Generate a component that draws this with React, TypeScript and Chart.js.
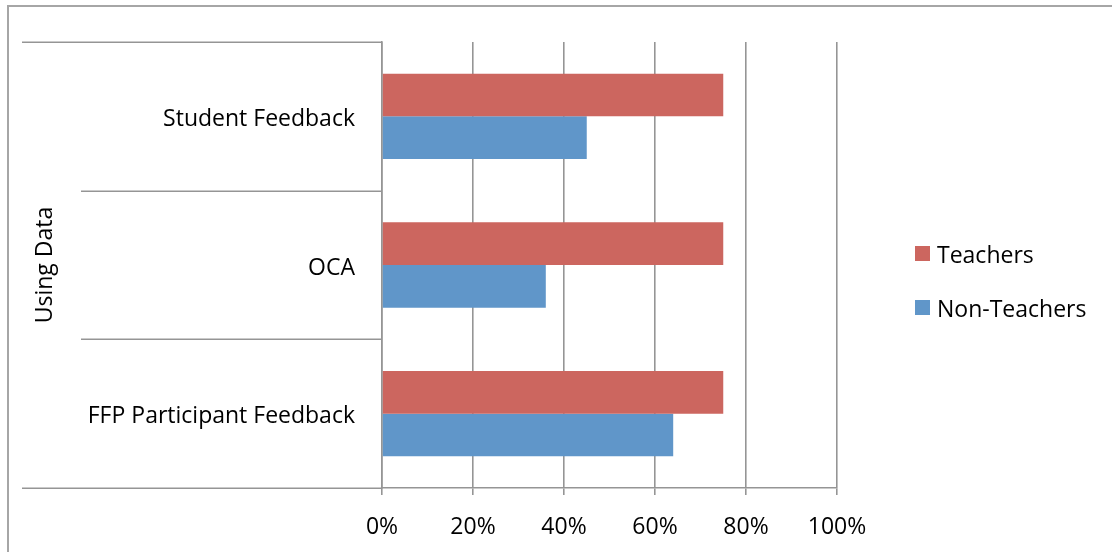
import React, { useEffect, useRef } from "react";
import { Chart, registerables } from "chart.js";

Chart.register(...registerables);

const categories = ["Student Feedback", "OCA", "FFP Participant Feedback"];
const seriesNames = ["Teachers", "Non-Teachers"];
const teachers = [75, 75, 75];
const nonTeachers = [45, 36, 64];
const xTicks = [0, 20, 40, 60, 80, 100];
const groupLabel = "Using Data";

const FONT_FAMILY = "'Open Sans', sans-serif";
const FONT_SIZE = 23;
const RED = "#CC665F";
const BLUE = "#6096C9";
const GRID = "#959595";

export default function App() {
  const ref = useRef<HTMLCanvasElement>(null);

  useEffect(() => {
    if (!ref.current) return;

    const decor = {
      id: "decor",
      afterDraw(chart: any) {
        const { ctx, chartArea, scales } = chart;
        const y = scales.y;
        ctx.save();
        // outer frame
        ctx.strokeStyle = "#a6a6a6";
        ctx.lineWidth = 2;
        ctx.beginPath();
        ctx.moveTo(8, 552);
        ctx.lineTo(8, 6);
        ctx.lineTo(1112, 6);
        ctx.stroke();

        // category separators (multi-level axis)
        ctx.strokeStyle = GRID;
        ctx.lineWidth = 1.5;
        const n = categories.length;
        for (let i = 0; i <= n; i++) {
          const py = Math.round(y.getPixelForValue(i - 0.5)) + 0.25;
          const x0 = i === 0 || i === n ? 22 : 81;
          ctx.beginPath();
          ctx.moveTo(x0, py);
          ctx.lineTo(chartArea.left, py);
          ctx.stroke();
        }

        // group label
        ctx.fillStyle = "#000";
        ctx.font = `${FONT_SIZE}px ${FONT_FAMILY}`;
        ctx.textAlign = "center";
        ctx.textBaseline = "middle";
        ctx.save();
        ctx.translate(45, (chartArea.top + chartArea.bottom) / 2);
        ctx.rotate(-Math.PI / 2);
        ctx.fillText(groupLabel, 0, 0);
        ctx.restore();

        // legend
        const ds = chart.data.datasets;
        const legendX = 915;
        const legendY0 = 246;
        const rowGap = 54;
        ctx.textAlign = "left";
        ds.forEach((d: any, i: number) => {
          const top = legendY0 + i * rowGap;
          ctx.fillStyle = d.backgroundColor;
          ctx.fillRect(legendX, top, 15, 15);
          ctx.fillStyle = "#000";
          ctx.fillText(d.label, legendX + 22, top + 10);
        });
        ctx.restore();
      },
    };

    const font = { family: FONT_FAMILY, size: FONT_SIZE };

    const chart = new Chart(ref.current, {
      type: "bar",
      data: {
        labels: categories,
        datasets: [
          {
            label: seriesNames[0],
            data: teachers,
            backgroundColor: RED,
            barPercentage: 1,
            categoryPercentage: 0.574,
          },
          {
            label: seriesNames[1],
            data: nonTeachers,
            backgroundColor: BLUE,
            barPercentage: 1,
            categoryPercentage: 0.574,
          },
        ],
      },
      options: {
        indexAxis: "y",
        animation: false,
        responsive: false,
        maintainAspectRatio: false,
        layout: { padding: { top: 42, right: 275, left: 0, bottom: 0 } },
        plugins: {
          legend: { display: false },
          tooltip: { enabled: false },
          title: { display: false },
        },
        scales: {
          x: {
            min: 0,
            max: 100,
            afterBuildTicks: (s: any) => {
              s.ticks = xTicks.map((v) => ({ value: v }));
            },
            ticks: {
              font,
              color: "#000",
              padding: 19,
              maxRotation: 0,
              callback: (v: any) => `${v}%`,
            },
            grid: { color: GRID, lineWidth: 1.6, tickLength: 7 },
            border: { color: GRID, width: 1.6 },
            afterFit: (s: any) => {
              s.height = 64;
            },
          },
          y: {
            ticks: { font, color: "#000", padding: 27, labelOffset: 3 },
            grid: { display: false, drawTicks: false },
            border: { color: GRID, width: 1.6 },
            afterFit: (s: any) => {
              s.width = 382;
            },
          },
        },
      },
      plugins: [decor],
    });

    return () => chart.destroy();
  }, []);

  return (
    <div style={{ position: "absolute", left: 0, top: 0, width: 1112, height: 552, background: "#fff" }}>
      <canvas ref={ref} width={1112} height={552} style={{ display: "block" }} />
    </div>
  );
}
